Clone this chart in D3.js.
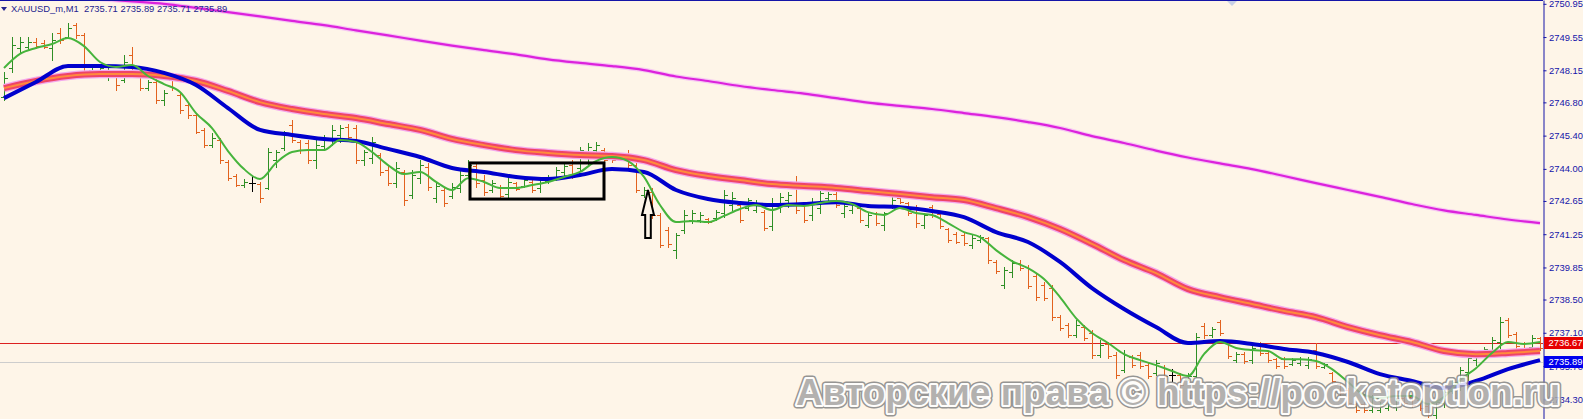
<!DOCTYPE html>
<html><head><meta charset="utf-8">
<script src="https://cdn.jsdelivr.net/npm/d3@7"></script>
<style>
html,body{margin:0;padding:0;background:#fef5e8;overflow:hidden}
svg{display:block}
</style></head><body>
<svg id="chart" width="1583" height="419"></svg>
<script>
// ---------- DATA ----------
const symbolTitle = "XAUUSD_m,M1";
const headerOHLC = [2735.71, 2735.89, 2735.71, 2735.89];
const priceTicks = [2750.95, 2749.55, 2748.15, 2746.80, 2745.40, 2744.00, 2742.65, 2741.25, 2739.85, 2738.50, 2737.10, 2735.70, 2734.30];
const hLinePrice = 2736.67;
const bidPrice = 2735.89;
const watermark = "Авторские права © https://pocketoption.ru";

const highs = [
2748.08,2749.55,2749.55,2749.55,2749.51,2749.43,2749.72,2749.93,2750.14,2750.14,
2749.72,2748.37,2748.29,2748.25,2748.04,2748.79,2749.13,2748.04,2747.74,2747.83,
2747.32,2747.83,2747.19,2746.77,2746.35,2745.72,2745.51,2745.30,2744.37,2743.78,
2743.57,2743.70,2743.45,2744.88,2744.79,2745.59,2746.06,2745.22,2745.22,2745.22,
2745.43,2745.85,2745.85,2745.89,2745.85,2744.79,2745.34,2744.67,2744.16,2744.29,
2743.95,2743.95,2744.37,2744.25,2743.45,2743.20,2743.40,2743.95,2744.37,2744.25,
2743.74,2743.53,2743.32,2743.61,2743.45,2743.61,2743.53,2743.61,2743.74,2744.08,
2744.25,2744.37,2744.92,2745.09,2745.13,2744.88,2744.71,2744.67,2744.79,2744.37,
2743.24,2743.20,2742.14,2741.55,2741.30,2742.27,2742.27,2742.18,2741.93,2742.27,
2743.11,2743.03,2742.56,2742.77,2742.69,2742.27,2742.77,2742.98,2743.03,2743.70,
2742.56,2742.77,2743.11,2743.03,2743.03,2742.56,2742.56,2742.39,2742.18,2742.18,
2742.18,2742.81,2742.81,2742.60,2742.48,2742.14,2742.48,2742.18,2741.51,2741.34,
2741.30,2741.21,2741.21,2741.13,2740.16,2739.87,2740.16,2740.16,2739.95,2739.61,
2739.24,2739.11,2737.85,2737.51,2737.64,2737.42,2737.21,2736.79,2736.71,2736.29,
2736.37,2736.16,2736.29,2735.82,2735.95,2735.74,2735.57,2735.40,2735.40,2737.09,
2737.51,2737.34,2737.64,2736.79,2736.29,2736.29,2736.58,2736.71,2736.29,2736.03,
2736.08,2736.03,2736.08,2736.08,2736.67,2735.82,2735.45,2734.98,2734.77,2734.14,
2734.18,2734.48,2734.18,2734.14,2734.35,2734.39,2734.48,2734.35,2734.06,2734.27,
2734.69,2735.11,2735.66,2736.16,2736.37,2736.50,2736.92,2737.76,2737.72,2737.13,
2736.71,2737.00,2736.92];

const lows = [
2746.90,2748.08,2748.88,2749.00,2749.09,2749.09,2748.58,2749.30,2749.51,2749.51,
2748.16,2748.08,2747.95,2747.74,2747.32,2747.66,2747.95,2747.32,2747.32,2746.77,
2746.69,2747.32,2746.35,2746.14,2745.51,2744.92,2744.92,2744.25,2743.53,2743.28,
2743.24,2743.07,2742.60,2743.15,2744.08,2744.79,2745.13,2744.67,2744.25,2744.04,
2744.79,2745.00,2745.13,2745.22,2744.25,2744.16,2744.25,2743.74,2743.32,2743.24,
2742.48,2742.77,2743.40,2743.11,2742.60,2742.44,2742.77,2743.03,2743.61,2743.24,
2742.90,2743.03,2742.77,2742.81,2743.11,2743.24,2743.03,2743.03,2743.40,2743.53,
2743.61,2743.61,2743.95,2744.16,2744.50,2744.25,2744.29,2744.37,2744.08,2743.03,
2742.81,2741.93,2740.71,2740.71,2740.25,2741.30,2741.72,2741.76,2741.72,2741.85,
2741.97,2742.27,2741.76,2742.27,2742.18,2741.43,2741.43,2742.18,2742.39,2742.14,
2741.76,2741.85,2742.14,2742.69,2742.39,2741.97,2742.14,2741.76,2741.55,2741.64,
2741.43,2742.35,2742.56,2742.06,2741.55,2741.51,2741.97,2741.51,2740.92,2740.88,
2740.79,2740.67,2740.92,2740.03,2739.61,2738.98,2739.45,2739.74,2738.98,2738.48,
2738.48,2737.64,2737.21,2736.92,2736.92,2736.79,2736.03,2736.08,2736.03,2735.19,
2735.45,2735.66,2735.61,2735.19,2735.32,2735.19,2735.07,2734.81,2735.11,2735.24,
2736.88,2736.92,2737.00,2736.03,2735.87,2735.82,2735.82,2736.16,2735.87,2735.61,
2735.61,2735.74,2735.74,2735.61,2735.61,2735.61,2734.98,2734.48,2734.06,2733.76,
2733.76,2733.76,2733.76,2733.85,2733.85,2734.06,2733.97,2733.85,2733.55,2733.51,
2733.97,2734.56,2734.69,2735.11,2735.74,2736.08,2736.29,2736.37,2736.92,2736.46,
2736.29,2736.46,2736.37];

const opens = [
2747.02,2748.25,2749.09,2749.13,2749.34,2749.30,2749.09,2749.72,2749.55,2750.06,
2749.64,2748.16,2748.04,2747.87,2747.95,2747.74,2748.79,2747.95,2747.40,2747.66,
2746.90,2747.74,2747.11,2746.69,2746.27,2745.64,2745.00,2745.22,2744.29,2743.70,
2743.32,2743.40,2743.36,2743.20,2744.37,2744.88,2745.85,2745.13,2745.09,2744.37,
2744.96,2745.22,2745.43,2745.76,2745.72,2744.37,2744.46,2744.58,2743.95,2743.40,
2743.87,2742.90,2743.61,2744.08,2742.77,2743.11,2742.86,2743.20,2743.74,2744.12,
2743.53,2743.11,2743.24,2742.94,2743.40,2743.28,2743.45,2743.20,2743.49,2743.66,
2743.87,2744.16,2744.04,2744.71,2744.79,2744.79,2744.58,2744.58,2744.58,2744.16,
2742.90,2743.03,2742.06,2741.43,2740.58,2741.43,2741.85,2741.85,2741.89,2741.93,
2742.14,2742.48,2742.48,2742.35,2742.27,2742.18,2741.60,2742.48,2742.69,2743.32,
2742.48,2742.06,2742.35,2742.77,2742.94,2742.14,2742.27,2742.35,2741.64,2742.14,
2741.64,2742.44,2742.77,2742.56,2742.35,2741.64,2742.39,2742.10,2741.47,2741.26,
2741.21,2740.79,2741.00,2741.09,2740.08,2739.11,2739.66,2740.03,2739.87,2739.49,
2739.11,2738.98,2737.76,2737.42,2737.00,2737.34,2737.09,2736.16,2736.63,2736.16,
2735.53,2736.08,2736.16,2735.74,2735.40,2735.66,2735.32,2735.32,2735.15,2735.28,
2737.39,2737.00,2737.55,2736.71,2735.95,2736.21,2735.95,2736.63,2736.25,2735.99,
2735.99,2735.78,2735.82,2735.74,2736.37,2735.66,2735.40,2734.94,2734.69,2734.10,
2734.10,2733.85,2733.85,2733.93,2733.97,2734.35,2734.39,2734.27,2734.02,2733.64,
2734.14,2734.65,2734.94,2735.45,2735.95,2736.25,2736.37,2736.71,2737.64,2737.05,
2736.67,2736.50,2736.88];

const closes = [
2747.83,2749.22,2749.34,2749.34,2749.17,2749.13,2749.43,2749.43,2749.93,2749.64,
2748.29,2748.29,2748.25,2748.08,2747.53,2748.50,2748.04,2747.40,2747.66,2746.90,
2747.19,2747.40,2746.48,2746.27,2745.55,2745.00,2745.30,2744.37,2743.61,2743.32,
2743.45,2743.40,2742.77,2744.71,2744.71,2745.43,2745.22,2744.79,2744.37,2745.00,
2745.30,2745.64,2745.72,2745.34,2744.37,2744.71,2745.13,2743.87,2743.40,2744.04,
2742.69,2743.74,2744.16,2743.24,2743.28,2742.56,2743.24,2743.74,2744.16,2743.40,
2743.03,2743.40,2742.86,2743.45,2743.15,2743.53,2743.11,2743.53,2743.66,2743.95,
2744.12,2743.74,2744.79,2744.92,2745.00,2744.37,2744.37,2744.46,2744.16,2743.11,
2743.11,2742.06,2740.79,2740.84,2741.21,2742.06,2742.14,2742.06,2741.76,2742.18,
2742.90,2742.77,2741.85,2742.69,2742.56,2741.51,2742.48,2742.81,2742.90,2742.27,
2741.85,2742.56,2742.98,2742.94,2742.48,2742.44,2742.48,2741.85,2742.06,2741.72,
2742.14,2742.69,2742.60,2742.14,2741.72,2742.06,2742.06,2741.60,2741.00,2740.92,
2740.88,2741.09,2741.13,2740.16,2739.70,2739.74,2740.03,2739.82,2739.07,2738.60,
2738.56,2737.76,2737.30,2737.00,2737.42,2736.88,2736.16,2736.58,2736.12,2735.32,
2736.16,2735.74,2735.70,2735.28,2735.82,2735.28,2735.32,2734.90,2735.28,2736.92,
2737.00,2737.26,2737.09,2736.12,2736.21,2735.91,2736.46,2736.25,2735.95,2735.70,
2735.70,2735.95,2735.99,2735.99,2735.70,2735.78,2735.07,2734.56,2734.14,2733.85,
2733.85,2734.35,2734.10,2734.10,2734.27,2734.14,2734.06,2733.93,2733.64,2734.18,
2734.61,2735.03,2735.53,2736.03,2736.29,2736.41,2736.79,2737.55,2737.00,2736.54,
2736.37,2736.88,2736.46];

// moving averages, read at bar positions
const fastIdx = d3.range(0, 193, 2);
const fastMa = [
2748.25,2748.84,2749.09,2749.26,2749.51,2749.17,2748.50,2748.29,2748.37,2747.91,
2747.57,2747.24,2746.35,2745.72,2744.75,2743.99,2743.57,2744.25,2744.71,2744.79,
2744.79,2745.22,2745.13,2744.71,2744.16,2743.78,2743.87,2743.45,2743.11,2743.61,
2743.45,2743.20,2743.20,2743.32,2743.45,2743.66,2743.87,2744.33,2744.50,2744.33,
2743.66,2742.48,2741.76,2741.81,2741.76,2742.02,2742.31,2742.48,2742.27,2742.48,
2742.44,2742.56,2742.65,2742.52,2742.18,2742.06,2742.35,2742.14,2742.06,2741.72,
2741.34,2741.13,2740.58,2740.12,2739.82,2739.36,2738.60,2737.72,2737.09,2736.67,
2736.20,2735.95,2735.74,2735.49,2735.28,2736.20,2736.71,2736.46,2736.37,2736.33,
2735.99,2735.99,2735.91,2735.57,2735.03,2734.48,2734.35,2734.44,2734.44,2734.10,
2734.39,2735.11,2735.61,2736.25,2736.71,2736.63,2736.71];

const midIdx = d3.range(0, 193, 4);
const blueMa = [
2746.98,2747.66,2748.33,2748.33,2748.29,2748.04,2747.53,2746.56,2745.64,2745.43,
2745.26,2745.17,2744.84,2744.50,2744.04,2743.87,2743.66,2743.57,2743.74,2743.99,
2743.87,2743.11,2742.73,2742.56,2742.48,2742.52,2742.60,2742.44,2742.39,2742.23,
2741.97,2741.34,2740.92,2740.08,2738.98,2738.10,2737.34,2736.67,2736.75,2736.63,
2736.42,2736.25,2735.87,2735.36,2735.07,2734.77,2735.07,2735.57,2735.95];
const redMa = [
2747.40,2747.70,2747.91,2747.99,2747.99,2747.91,2747.70,2747.28,2746.81,2746.52,
2746.31,2746.14,2745.89,2745.64,2745.26,2745.00,2744.79,2744.67,2744.58,2744.54,
2744.37,2743.95,2743.70,2743.53,2743.36,2743.28,2743.20,2743.07,2742.94,2742.81,
2742.69,2742.35,2741.97,2741.47,2740.84,2740.16,2739.61,2738.94,2738.60,2738.31,
2738.02,2737.76,2737.34,2737.00,2736.71,2736.33,2736.20,2736.25,2736.33];

const longIdx = d3.range(12, 193, 4);
const magentaMa = [
2751.15,2751.05,2750.95,2750.78,2750.60,2750.42,2750.23,2750.05,2749.83,2749.62,
2749.40,2749.19,2749.00,2748.82,2748.61,2748.46,2748.33,2748.16,2747.89,2747.70,
2747.49,2747.32,2747.17,2746.98,2746.79,2746.65,2746.52,2746.35,2746.18,2745.97,
2745.72,2745.38,2745.09,2744.77,2744.48,2744.23,2743.99,2743.70,2743.40,2743.11,
2742.82,2742.52,2742.25,2742.06,2741.87,2741.72];

// annotations (bar index / price)
const boxAnno = {from: 58.25, to: 75, top: 2744.25, bottom: 2742.73};
const arrowAnno = {at: 80.5, tip: 2743.11, base: 2741.09};

// ---------- DRAWING ----------
const W = 1583, H = 419, PLOT_R = 1543;
const BG = '#fef5e8', AXIS_C = '#1414a8';
const UP = '#2f8f25', DOWN = '#e2621e', DOJI = '#000000';
const FONT = '"Liberation Sans", Arial, sans-serif';
const LABEL_FS = 9.4;

const x = d3.scaleLinear().domain([0, 192]).range([4, 1540]);
const y = d3.scaleLinear().domain([2733.47, 2751.11]).range([H, 0]);
const yr = v => Math.round(y(v)) + 0.5;

const svg = d3.select('#chart');
svg.append('rect').attr('width', W).attr('height', H).attr('fill', BG);
svg.append('defs').append('clipPath').attr('id', 'clip')
  .append('rect').attr('width', PLOT_R).attr('height', H);
const plot = svg.append('g').attr('clip-path', 'url(#clip)');

// bid line & horizontal line
plot.append('line').attr('x1', 0).attr('x2', PLOT_R).attr('y1', yr(bidPrice)).attr('y2', yr(bidPrice))
  .attr('stroke', '#cdcdcd').attr('shape-rendering', 'crispEdges');
plot.append('line').attr('x1', 0).attr('x2', PLOT_R).attr('y1', yr(hLinePrice)).attr('y2', yr(hLinePrice))
  .attr('stroke', '#dc2020').attr('shape-rendering', 'crispEdges');

// OHLC bars
const bars = d3.range(highs.length).map(i => ({i, o: opens[i], h: highs[i], l: lows[i], c: closes[i]}));
plot.append('g').attr('fill', 'none').attr('shape-rendering', 'crispEdges')
  .selectAll('path').data(bars).join('path')
  .attr('stroke', d => d.c > d.o ? UP : (d.c < d.o ? DOWN : DOJI))
  .attr('d', d => {
    const cx = Math.round(x(d.i)) + 0.5;
    return `M${cx},${Math.round(y(d.h))}V${Math.round(y(d.l)) + 1}` +
           `M${cx - 3.5},${yr(d.o)}H${cx}M${cx},${yr(d.c)}H${cx + 3.5}`;
  });

// moving averages
const lineGen = d3.line().x(d => x(d[0])).y(d => y(d[1])).curve(d3.curveMonotoneX);
const ser = (idx, vals) => idx.map((k, j) => [k, vals[j]]);
function drawLine(data, stroke, width, op) {
  plot.append('path').attr('d', lineGen(data)).attr('fill', 'none')
    .attr('stroke', stroke).attr('stroke-width', width)
    .attr('stroke-linejoin', 'round').attr('opacity', op || 1);
}
drawLine(ser(longIdx, magentaMa), '#f6c8f2', 4.5);
drawLine(ser(longIdx, magentaMa), '#dc22dc', 2.2);
drawLine(ser(midIdx, redMa), '#f3a8ec', 8.5);
drawLine(ser(midIdx, redMa), '#ee4468', 6);
drawLine(ser(midIdx, redMa), '#ff8a3c', 2);
drawLine(ser(midIdx, blueMa), '#0000cd', 4);
drawLine(ser(fastIdx, fastMa), '#46b43c', 2);

// rectangle annotation
plot.append('rect')
  .attr('x', x(boxAnno.from)).attr('y', y(boxAnno.top))
  .attr('width', x(boxAnno.to) - x(boxAnno.from)).attr('height', y(boxAnno.bottom) - y(boxAnno.top))
  .attr('fill', 'none').attr('stroke', '#000').attr('stroke-width', 3);

// arrow annotation
{
  const ax = x(arrowAnno.at), yt = y(arrowAnno.tip), yb = y(arrowAnno.base);
  const headH = 25, hw = 6, sw = 2.8;
  const p = `M${ax},${yt} L${ax + hw},${yt + headH} L${ax + sw},${yt + headH} L${ax + sw},${yb} L${ax - sw},${yb} L${ax - sw},${yt + headH} L${ax - hw},${yt + headH} Z`;
  plot.append('path').attr('d', p).attr('fill', BG).attr('stroke', '#000').attr('stroke-width', 2)
    .attr('stroke-linejoin', 'miter');
}

// top border
svg.append('line').attr('x1', 0).attr('x2', PLOT_R).attr('y1', 0.5).attr('y2', 0.5)
  .attr('stroke', AXIS_C).attr('shape-rendering', 'crispEdges');
// chart shift marker
svg.append('path').attr('d', 'M1227,1L1237,1L1232,6Z').attr('fill', '#c8d0e6');

// price axis
const axis = d3.axisRight(y).tickValues(priceTicks).tickFormat(d3.format('.2f'))
  .tickSize(3).tickSizeOuter(0).tickPadding(2.5);
const ag = svg.append('g').attr('transform', `translate(${PLOT_R + 0.5},0)`).call(axis);
ag.select('.domain').attr('stroke', AXIS_C);
ag.selectAll('.tick line').attr('stroke', AXIS_C);
ag.selectAll('.tick text').attr('fill', AXIS_C)
  .attr('font-family', FONT).attr('font-size', LABEL_FS);

// price labels
[{p: hLinePrice, fill: '#e60000'}, {p: bidPrice, fill: '#0000ee'}].forEach(lb => {
  svg.append('rect').attr('x', PLOT_R + 1).attr('y', Math.round(y(lb.p)) - 6)
    .attr('width', W - PLOT_R - 1).attr('height', 12).attr('fill', lb.fill);
  svg.append('text').attr('x', PLOT_R + 5.5).attr('y', y(lb.p)).attr('dy', '0.35em')
    .attr('fill', '#fff').attr('font-family', FONT)
    .attr('font-size', LABEL_FS).text(d3.format('.2f')(lb.p));
});

// header
svg.append('path').attr('d', 'M1,7L7,7L4,11Z').attr('fill', '#24248f');
svg.append('text').attr('x', 11).attr('y', 12).attr('fill', '#24248f')
  .attr('font-family', FONT).attr('font-size', 9.4)
  .attr('xml:space', 'preserve').style('white-space', 'pre')
  .text(symbolTitle + '  ' + headerOHLC.map(d3.format('.2f')).join(' '));

// watermark
const wm = svg.append('g').attr('opacity', 0.85)
  .attr('font-family', FONT).attr('font-weight', 'bold').attr('font-size', 36);
const wmAttrs = sel => sel.attr('x', 796).attr('y', 405).attr('textLength', 764)
  .attr('lengthAdjust', 'spacingAndGlyphs').text(watermark);
wm.append('text').call(wmAttrs).attr('fill', 'none').attr('stroke', '#858585').attr('stroke-width', 7).attr('stroke-linejoin', 'round');
wm.append('text').call(wmAttrs).attr('fill', 'none').attr('stroke', '#ffffff').attr('stroke-width', 4).attr('stroke-linejoin', 'round');
wm.append('text').call(wmAttrs).attr('fill', '#a6a6a6');
</script>
</body></html>
